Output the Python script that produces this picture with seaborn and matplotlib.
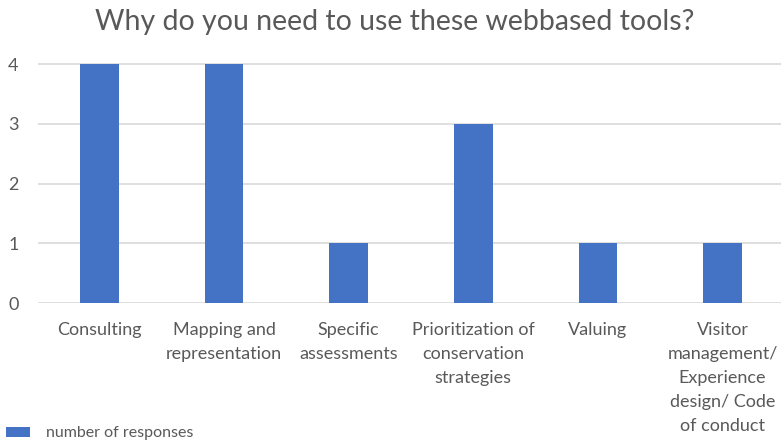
import matplotlib
matplotlib.use("Agg")
import matplotlib.pyplot as plt
import seaborn as sns
import pandas as pd

categories = [
    "Consulting",
    "Mapping and\nrepresentation",
    "Specific\nassessments",
    "Prioritization of\nconservation\nstrategies",
    "Valuing",
    "Visitor\nmanagement/\nExperience\ndesign/ Code\nof conduct",
]
responses = [4, 4, 1, 3, 1, 1]
series_name = "number of responses"
title = "Why do you need to use these webbased tools?"
y_ticks = [0, 1, 2, 3, 4]

BAR = "#4472C4"
TEXT = "#595959"
GRID = "#D9D9D9"

sns.set_theme(style="white")
plt.rcParams["font.family"] = ["Lato", "DejaVu Sans"]

df = pd.DataFrame({"category": categories, "value": responses})

W, H = 781, 446
fig = plt.figure(figsize=(W / 100, H / 100), dpi=100)

# axes placed in pixel terms: y=0 at 303px, y=4 at 64px from top
y0_px, y4_px = 303, 64
ytop = 4.1
unit = (y0_px - y4_px) / 4
ax_h = unit * ytop
left_px, right_px = 38, 781
ax = fig.add_axes([left_px / W, (H - y0_px) / H, (right_px - left_px) / W, ax_h / H])

sns.barplot(data=df, x="category", y="value", color=BAR, width=0.31,
            saturation=1, linewidth=0, label=series_name, ax=ax, zorder=3)

step = 124.6
x0_px = 99.5
ax.set_xlim((left_px - x0_px) / step, (right_px - x0_px) / step)
ax.set_ylim(0, ytop)
ax.set_yticks(y_ticks)
ax.yaxis.grid(True, color=GRID, linewidth=1.2, zorder=0)
ax.set_axisbelow(True)
for s in ax.spines.values():
    s.set_visible(False)
ax.set_xlabel("")
ax.set_ylabel("")
ax.tick_params(axis="both", length=0, colors=TEXT, labelsize=13)
ax.tick_params(axis="y", pad=14)

# category labels: one line at a time so every row sits on an even 24px pitch
ax.set_xticks(range(len(categories)))
ax.set_xticklabels([""] * len(categories))
first_baseline, line_pitch = 32, 24
for i, cat in enumerate(categories):
    for j, line in enumerate(cat.split("\n")):
        ax.annotate(line, xy=(i, 0), xycoords=("data", "axes fraction"),
                    xytext=(0, -(first_baseline + j * line_pitch)),
                    textcoords="offset pixels", ha="center", va="baseline",
                    fontsize=13, color=TEXT, annotation_clip=False)

if ax.get_legend():
    ax.get_legend().remove()
handles, labels = ax.get_legend_handles_labels()
fig.legend(handles, labels, loc="lower left", bbox_to_anchor=(0.0, 0.0),
           frameon=False, fontsize=11.5, labelcolor=TEXT, handlelength=1.5,
           handleheight=0.6, handletextpad=1.05, borderaxespad=0.0,
           borderpad=0.35)

fig.text(0.5 + 4 / W, 1 - 22 / H, title, ha="center", va="center",
         fontsize=20.5, color=TEXT)

fig.savefig("out.png", dpi=100, facecolor="white")
